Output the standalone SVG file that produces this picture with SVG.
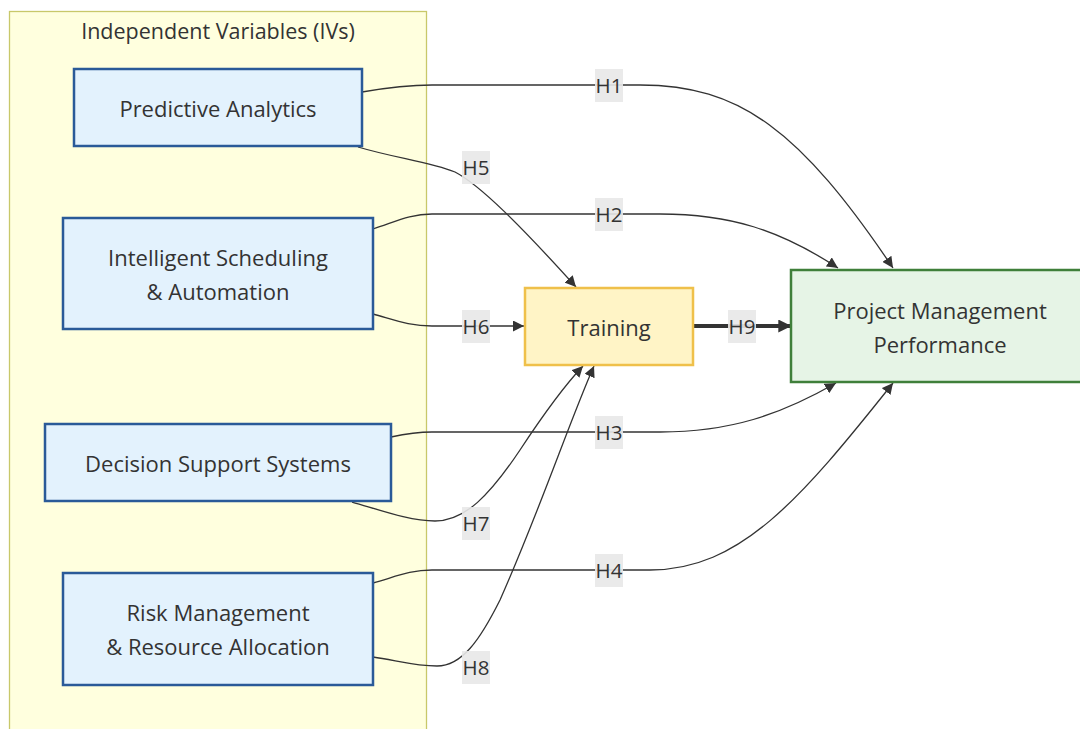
<svg xmlns="http://www.w3.org/2000/svg" width="1080" height="729" viewBox="0 0 1080 729">
  <style>
    text { font-family: "Open Sans", "DejaVu Sans", sans-serif; fill: #333333; text-anchor: middle; dominant-baseline: central; }
    .title { font-size: 21.5px; }
    .node-text { font-size: 22px; }
    .iv { fill: #e3f2fd; stroke: #2a5a98; stroke-width: 2.5; }
    .mediator { fill: #fff4c6; stroke: #efc04a; stroke-width: 2.5; }
    .outcome { fill: #e6f4e6; stroke: #3f7f3a; stroke-width: 2.5; }
    .edge { fill: none; stroke: #333333; stroke-width: 1.3; }
    .edge-thick { fill: none; stroke: #333333; stroke-width: 4; }
    .lbl-bg { fill: #e8e8e8; opacity: 0.9; }
    .lbl { font-size: 20.5px; }
  </style>
  <defs>
    <marker id="arrow" viewBox="0 0 10 10" refX="10" refY="5" markerUnits="userSpaceOnUse" markerWidth="11" markerHeight="11" orient="auto">
      <path d="M0,0 L10,5 L0,10 z" fill="#333333"/>
    </marker>
    <marker id="arrow-thick" viewBox="0 0 10 10" refX="9" refY="5" markerUnits="userSpaceOnUse" markerWidth="13" markerHeight="13" orient="auto">
      <path d="M0,0 L10,5 L0,10 z" fill="#333333"/>
    </marker>
  </defs>

  <rect width="1080" height="729" fill="#ffffff"/>

  <!-- Cluster: independent variables -->
  <g id="cluster-ivs">
    <rect x="9.5" y="11.5" width="417" height="730" fill="#ffffde" stroke="#c8c86a" stroke-width="1.3"/>
    <text class="title" x="218" y="30">Independent Variables (IVs)</text>
  </g>

  <!-- Connectors -->
  <g id="connectors">
    <path id="e-h1" class="edge" d="M362,92 C385,88 405,85 432,85 L640,85 C740,85 800,130 893,268" marker-end="url(#arrow)"/>
    <path id="e-h5" class="edge" d="M358,147 C395,158 430,162 455,172 C480,185 520,225 576,287" marker-end="url(#arrow)"/>
    <path id="e-h2" class="edge" d="M373,229 C395,222 410,214 432,214 L660,214 C730,214 780,230 838,268" marker-end="url(#arrow)"/>
    <path id="e-h6" class="edge" d="M373,314 C395,320 410,326 432,326 L524,326" marker-end="url(#arrow)"/>
    <path id="e-h9" class="edge-thick" d="M693,326 L790,326" marker-end="url(#arrow-thick)"/>
    <path id="e-h3" class="edge" d="M391,437 C405,434 415,432 432,432 L660,432 C730,432 780,415 836,383" marker-end="url(#arrow)"/>
    <path id="e-h7" class="edge" d="M352,502 C380,510 410,521 435,521 C465,521 490,495 520,450 C545,412 565,385 583,366" marker-end="url(#arrow)"/>
    <path id="e-h4" class="edge" d="M373,583 C395,577 410,570 432,570 L650,570 C740,570 800,500 893,383" marker-end="url(#arrow)"/>
    <path id="e-h8" class="edge" d="M373,657 C395,660 415,666 437,666 C462,666 480,640 500,600 C540,510 570,420 594,366" marker-end="url(#arrow)"/>

    <!-- Edge labels -->
    <g id="labels">
      <rect class="lbl-bg" x="595" y="69" width="28" height="33"/><text class="lbl" x="609" y="85">H1</text>
      <rect class="lbl-bg" x="595" y="198" width="28" height="33"/><text class="lbl" x="609" y="214">H2</text>
      <rect class="lbl-bg" x="595" y="416" width="28" height="33"/><text class="lbl" x="609" y="432">H3</text>
      <rect class="lbl-bg" x="595" y="554" width="28" height="33"/><text class="lbl" x="609" y="570">H4</text>
      <rect class="lbl-bg" x="462" y="151" width="28" height="33"/><text class="lbl" x="476" y="167">H5</text>
      <rect class="lbl-bg" x="462" y="310" width="28" height="33"/><text class="lbl" x="476" y="326">H6</text>
      <rect class="lbl-bg" x="462" y="507" width="28" height="33"/><text class="lbl" x="476" y="523">H7</text>
      <rect class="lbl-bg" x="462" y="651" width="28" height="33"/><text class="lbl" x="476" y="667">H8</text>
      <rect class="lbl-bg" x="728" y="310" width="28" height="33"/><text class="lbl" x="742" y="326">H9</text>
    </g>
  </g>

  <!-- Nodes -->
  <g id="node-pa">
    <rect class="iv" x="74" y="69" width="288" height="77"/>
    <text class="node-text" x="218" y="108">Predictive Analytics</text>
  </g>
  <g id="node-isa">
    <rect class="iv" x="63" y="218" width="310" height="111"/>
    <text class="node-text" x="218" y="257">Intelligent Scheduling</text>
    <text class="node-text" x="218" y="291">&amp; Automation</text>
  </g>
  <g id="node-dss">
    <rect class="iv" x="45" y="424" width="346" height="77"/>
    <text class="node-text" x="218" y="463">Decision Support Systems</text>
  </g>
  <g id="node-rmra">
    <rect class="iv" x="63" y="573" width="310" height="112"/>
    <text class="node-text" x="218" y="612">Risk Management</text>
    <text class="node-text" x="218" y="646">&amp; Resource Allocation</text>
  </g>
  <g id="node-training">
    <rect class="mediator" x="525" y="288" width="168" height="77"/>
    <text class="node-text" x="609" y="327">Training</text>
  </g>
  <g id="node-pmp">
    <rect class="outcome" x="791" y="270" width="300" height="112"/>
    <text class="node-text" x="940" y="310">Project Management</text>
    <text class="node-text" x="940" y="344">Performance</text>
  </g>
</svg>
